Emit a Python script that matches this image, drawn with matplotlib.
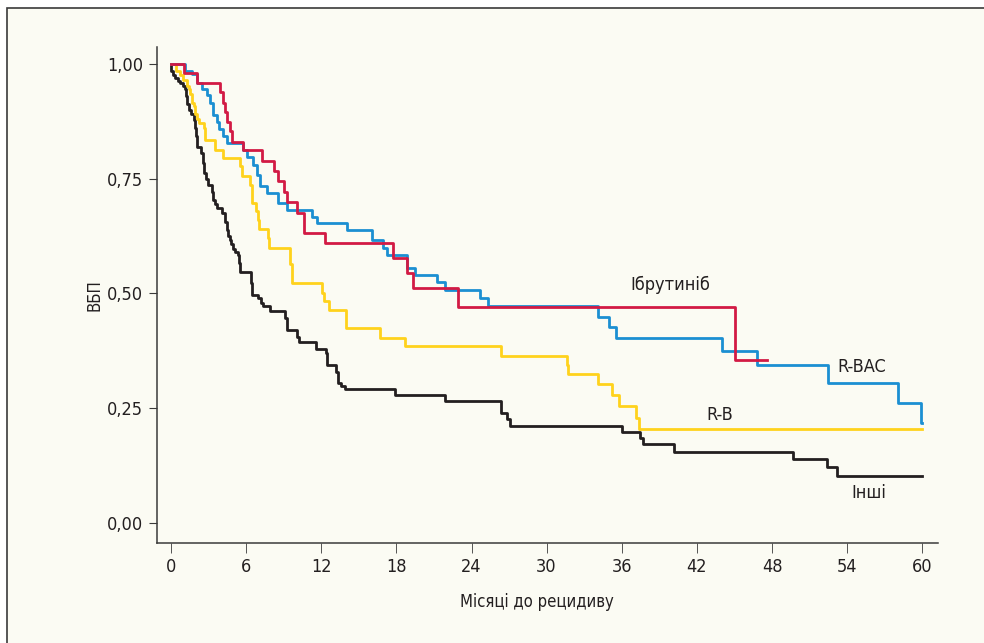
import matplotlib
matplotlib.use('Agg')
import matplotlib.pyplot as plt
from matplotlib.patches import Rectangle

plt.rcParams['font.family'] = ['DejaVu Sans']
plt.rcParams['font.stretch'] = 'condensed'

# Kaplan-Meier steps: time of drop (months) and survival level after the drop
ibr_t = [0, 1.06, 2.05, 3.91, 4.13, 4.31, 4.50, 4.71, 4.85, 5.73, 7.24, 8.23, 8.57,
         9.03, 9.29, 10.04, 10.62, 12.30, 17.7, 18.87, 19.36, 22.95, 45.05, 47.58]
ibr_s = [1.0, 0.980, 0.959, 0.938, 0.916, 0.896, 0.874, 0.853, 0.831, 0.812, 0.788,
         0.766, 0.744, 0.722, 0.700, 0.675, 0.632, 0.609, 0.577, 0.545, 0.511, 0.471,
         0.355, 0.355]

rbac_t = [0, 1.12, 1.65, 2.05, 2.45, 2.85, 3.12, 3.33, 3.65, 3.86, 4.13, 4.50, 5.78,
          6.05, 6.57, 6.89, 7.11, 7.64, 8.57, 9.24, 11.24, 11.64, 14.03, 16.03, 16.96,
          17.28, 18.87, 19.5, 21.27, 21.88, 24.68, 25.34, 34.13, 35.0, 35.54, 44.03,
          46.83, 52.5, 58.04, 59.9, 60.0]
rbac_s = [1.0, 0.985, 0.978, 0.958, 0.945, 0.932, 0.914, 0.889, 0.874, 0.858, 0.843,
          0.827, 0.813, 0.798, 0.780, 0.758, 0.734, 0.718, 0.697, 0.682, 0.667, 0.654,
          0.638, 0.617, 0.600, 0.584, 0.556, 0.540, 0.526, 0.508, 0.490, 0.473, 0.449,
          0.428, 0.402, 0.375, 0.344, 0.306, 0.262, 0.217, 0.217]

rb_t = [0, 0.40, 0.74, 0.93, 1.28, 1.41, 1.54, 1.68, 1.81, 1.94, 2.08, 2.21, 2.61,
        2.74, 3.51, 4.19, 5.51, 5.65, 6.31, 6.45, 6.79, 6.95, 6.99, 7.77, 7.79, 9.50,
        9.64, 12.06, 12.18, 12.62, 13.98, 16.73, 18.69, 26.33, 31.63, 31.73, 34.13,
        35.26, 35.82, 37.14, 37.40, 60.0]
rb_s = [1.0, 0.985, 0.975, 0.965, 0.952, 0.945, 0.934, 0.916, 0.908, 0.890, 0.880,
        0.872, 0.861, 0.835, 0.813, 0.795, 0.777, 0.755, 0.736, 0.697, 0.679, 0.660,
        0.640, 0.621, 0.600, 0.564, 0.523, 0.500, 0.484, 0.464, 0.425, 0.403, 0.385,
        0.364, 0.344, 0.325, 0.303, 0.279, 0.254, 0.229, 0.205, 0.205]

oth_t = [0, 0.02, 0.14, 0.34, 0.56, 0.74, 0.93, 1.09, 1.20, 1.28, 1.44, 1.60, 1.81,
         1.92, 2.00, 2.10, 2.37, 2.53, 2.64, 2.80, 2.98, 3.25, 3.38, 3.51, 3.70, 4.05,
         4.31, 4.45, 4.58, 4.71, 4.83, 4.98, 5.11, 5.38, 5.46, 5.51, 6.39, 6.49, 6.97,
         7.19, 7.37, 7.91, 9.11, 9.24, 10.04, 10.25, 11.6, 12.38, 12.48, 13.18, 13.36,
         13.58, 13.90, 17.85, 21.88, 26.36, 26.81, 27.08, 36.0, 37.46, 37.72, 40.18,
         49.66, 52.42, 53.22, 60.0]
oth_s = [1.0, 0.985, 0.977, 0.970, 0.963, 0.959, 0.952, 0.945, 0.930, 0.913, 0.900,
         0.891, 0.878, 0.861, 0.843, 0.820, 0.805, 0.784, 0.762, 0.749, 0.736, 0.722,
         0.704, 0.695, 0.686, 0.675, 0.656, 0.638, 0.625, 0.617, 0.608, 0.598, 0.591,
         0.584, 0.566, 0.547, 0.522, 0.496, 0.490, 0.480, 0.473, 0.461, 0.446, 0.420,
         0.406, 0.395, 0.380, 0.370, 0.344, 0.330, 0.304, 0.298, 0.291, 0.279, 0.265,
         0.240, 0.227, 0.212, 0.199, 0.185, 0.172, 0.155, 0.139, 0.123, 0.102, 0.102]

x_ticks = [0, 6, 12, 18, 24, 30, 36, 42, 48, 54, 60]
y_ticks = [0.0, 0.25, 0.5, 0.75, 1.0]
y_tick_labels = ['0,00', '0,25', '0,50', '0,75', '1,00']

c_red = '#d21a44'
c_blue = '#1b8fd2'
c_yellow = '#ffd21c'
c_black = '#231f20'
bg = '#fbfbf3'

fig = plt.figure(figsize=(9.84, 6.43), dpi=100)
fig.patch.set_facecolor('white')
fig.patches.append(Rectangle((7 / 984, -0.05), 1.1, 1 - 8 / 643 + 0.05,
                             transform=fig.transFigure, facecolor=bg,
                             edgecolor='#3a3a3a', linewidth=1.2, zorder=-10))

ax = fig.add_axes([157 / 984, 1 - 543 / 643, (937.5 - 157) / 984, (543 - 47) / 643])
ax.set_facecolor('none')
ax.set_zorder(5)

lw = 2.0
ax.step(oth_t, oth_s, where='post', color=c_black, lw=lw)
ax.step(rb_t, rb_s, where='post', color=c_yellow, lw=lw)
ax.step(rbac_t, rbac_s, where='post', color=c_blue, lw=lw)
ax.step(ibr_t, ibr_s, where='post', color=c_red, lw=lw)

ax.set_xlim(-1.12, 61.22)
ax.set_ylim(-0.0436, 1.037)
ax.set_xticks(x_ticks)
ax.set_yticks(y_ticks)
ax.set_yticklabels(y_tick_labels)

for s in ['top', 'right']:
    ax.spines[s].set_visible(False)
for s in ['left', 'bottom']:
    ax.spines[s].set_color('#3a3a3a')
    ax.spines[s].set_linewidth(1.1)

ax.tick_params(axis='y', direction='out', length=6, width=0.8, color='#3a3a3a',
               pad=4, labelsize=13, labelcolor='#231f20')
ax.tick_params(axis='x', direction='out', length=7.5, width=0.6, color='#3a3a3a',
               pad=3.5, labelsize=13, labelcolor='#231f20')

ax.set_xlabel('Місяці до рецидиву', fontsize=12, color='#231f20')
ax.set_ylabel('ВБП', fontsize=12, color='#231f20')
ax.xaxis.set_label_coords(0.487, -0.100)
ax.yaxis.set_label_coords(-0.068, 0.5)

lab = dict(fontsize=13, color='#231f20', ha='center', va='center')
ax.text(39.86, 0.519, 'Ібрутиніб', **lab)
ax.text(55.2, 0.340, 'R-BAC', **lab)
ax.text(43.85, 0.235, 'R-B', **lab)
ax.text(55.75, 0.065, 'Інші', **lab)

fig.savefig('out.png', dpi=100, facecolor=fig.get_facecolor())
